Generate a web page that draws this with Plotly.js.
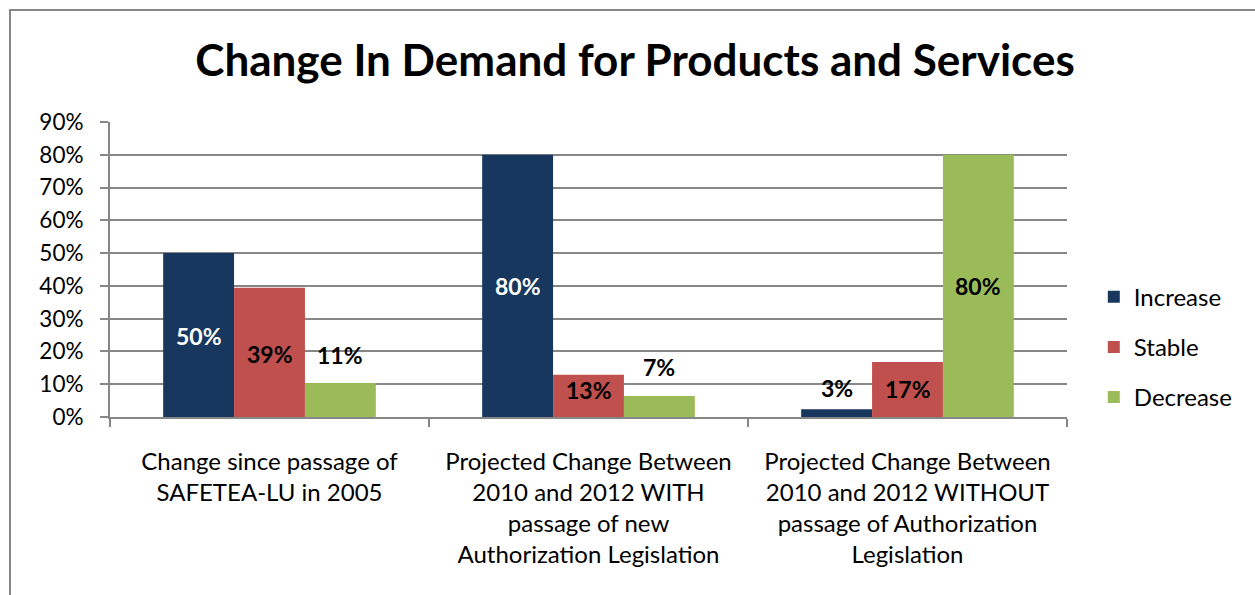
<!DOCTYPE html>
<html>
<head>
<meta charset="utf-8">
<script src="https://cdn.plot.ly/plotly-3.0.1.min.js"></script>
<style>
html,body{margin:0;padding:0;background:#fff;overflow:hidden;}
#chart{width:1255px;height:595px;position:relative;}
#frame{position:absolute;left:9px;top:9px;width:1300px;height:700px;border-left:2px solid #878787;border-top:2px solid #878787;pointer-events:none;}
</style>
</head>
<body>
<div id="chart"></div>
<div id="frame"></div>
<script>
// ---- data ----
const categories = [
  "Change since passage of<br>SAFETEA-LU in 2005",
  "Projected Change Between<br>2010 and 2012 WITH<br>passage of new<br>Authorization Legislation",
  "Projected Change Between<br>2010 and 2012 WITHOUT<br>passage of Authorization<br>Legislation"
];
const seriesNames = ["Increase", "Stable", "Decrease"];
const increase = [50, 80, 2.4];
const stable = [39.4, 12.9, 16.8];
const decrease = [10.4, 6.4, 80];
const increaseLabels = ["50%", "80%", "3%"];
const stableLabels = ["39%", "13%", "17%"];
const decreaseLabels = ["11%", "7%", "80%"];

// ---- styling ----
const colors = ["#17375E", "#C0504D", "#9BBB59"];
const labelColors = [["#FFFFFF", "#FFFFFF", "#000000"], ["#000000", "#000000", "#000000"], ["#000000", "#000000", "#000000"]];
// label placement: 'c' = centred in bar, 'o' = above bar
const labelPlace = [["c", "c", "o"], ["c", "c", "c"], ["o", "o", "c"]];
const labelShift = [[-1, 0, 5], [-2, 6, 0], [12, 13, 0]];
const FONT = "Lato, 'Open Sans', sans-serif";

const allVals = [increase, stable, decrease];
const allLabels = [increaseLabels, stableLabels, decreaseLabels];

const bargap = 1/3;
const barW = (1 - bargap) / 3;

const traces = seriesNames.map((name, s) => ({
  type: "bar",
  name: name,
  x: categories,
  y: allVals[s],
  marker: {color: colors[s], line: {width: 0}},
  legendgroup: name,
  hoverinfo: "skip"
}));

const annotations = [];
for (let s = 0; s < 3; s++) {
  for (let i = 0; i < 3; i++) {
    const v = allVals[s][i];
    const centred = labelPlace[s][i] === "c";
    annotations.push({
      xref: "x", yref: "y",
      x: i + (s - 1) * barW,
      y: centred ? v / 2 : v,
      yanchor: centred ? "middle" : "bottom",
      yshift: labelShift[s][i],
      text: allLabels[s][i],
      showarrow: false,
      font: {family: FONT, size: 23, color: labelColors[s][i], weight: "bold"}
    });
  }
}

const layout = {
  width: 1255, height: 595,
  margin: {l: 110, r: 188, t: 122, b: 178},
  paper_bgcolor: "#fff", plot_bgcolor: "#fff",
  font: {family: FONT, size: 24, color: "#000"},
  title: {
    text: "<b>Change In Demand for Products and Services</b>",
    font: {family: FONT, size: 44, color: "#000"},
    x: 0.506, xref: "container", xanchor: "center",
    y: 1 - 61/595, yref: "container", yanchor: "middle"
  },
  barmode: "group",
  bargap: bargap,
  bargroupgap: 0,
  xaxis: {
    type: "category",
    range: [-0.5, 2.5],
    showgrid: false,
    showline: true, linecolor: "#878787", linewidth: 2,
    ticks: "outside", ticklen: 8, tickcolor: "#878787", tickwidth: 2,
    tickson: "boundaries",
    tickfont: {family: FONT, size: 24, color: "#000"},
    ticklabelstandoff: 22,
    zeroline: false
  },
  yaxis: {
    range: [0, 90],
    tickmode: "linear", tick0: 0, dtick: 10,
    ticksuffix: "%",
    showgrid: true, gridcolor: "#878787", gridwidth: 2,
    showline: true, linecolor: "#878787", linewidth: 2,
    ticks: "outside", ticklen: 8, tickcolor: "#878787", tickwidth: 2,
    tickfont: {family: FONT, size: 22.5, color: "#000"},
    ticklabelstandoff: 12,
    zeroline: false
  },
  showlegend: true,
  legend: {
    x: 1.028, xanchor: "left",
    y: 0.237, yanchor: "middle",
    font: {family: FONT, size: 24, color: "#000"},
    traceorder: "grouped",
    tracegroupgap: 16,
    bgcolor: "rgba(0,0,0,0)"
  },
  annotations: annotations
};

Plotly.newPlot("chart", traces, layout, {staticPlot: true, displayModeBar: false});
</script>
</body>
</html>
